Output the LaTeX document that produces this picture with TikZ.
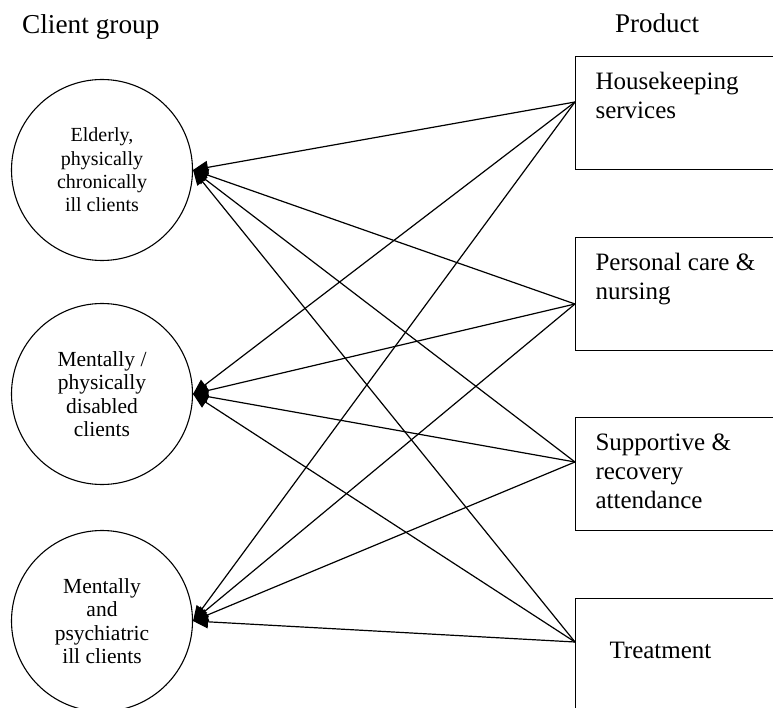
\documentclass[tikz,border=0pt]{standalone}
\usepackage{fontspec}
\setmainfont{Liberation Serif}
\usetikzlibrary{arrows.meta}

\newcommand{\prtext}[2][33pt]{\parbox[b][113pt][t]{175pt}{\rule{0pt}{#1}#2}}

\begin{document}
\begin{tikzpicture}[x=1pt, y=-1pt,
                    cg/.style={draw, circle, line width=1.1pt, minimum size=181pt,
                               inner sep=0pt, align=center},
                    pr/.style={draw, anchor=north west, line width=1.1pt, inner xsep=20pt,
                               inner ysep=0pt, minimum width=215pt,
                               font=\fontsize{25}{29}\selectfont},
                    link/.style={line width=1.2pt, -{Triangle[length=15pt,width=13pt]}}]
                    \useasboundingbox (0, 0) rectangle (773, 708);
                    \node[anchor=base west, inner sep=0pt, font=\fontsize{27.3}{31}\selectfont]
                        (hcg) at (22, 34) {Client group};
                    \node[anchor=base west, inner sep=0pt, font=\fontsize{27}{31}\selectfont]
                        (hpr) at (615, 33) {Product};
                    \node[cg, font=\fontsize{20}{23.3}\selectfont] (cg0) at (102, 170)
                        {Elderly,\\physically\\chronically\\ill clients};
                    \node[cg, font=\fontsize{21.5}{23.3}\selectfont] (cg1) at (102, 394)
                        {Mentally /\\physically\\disabled\\clients};
                    \node[cg, font=\fontsize{21.5}{23.3}\selectfont] (cg2) at (102, 621)
                        {Mentally\\and\\psychiatric\\ill clients};
                    \node[pr] (pr0) at (575, 56) {\prtext{Housekeeping\\services}};
                    \node[pr] (pr1) at (575, 237) {\prtext{Personal care \&\\nursing}};
                    \node[pr] (pr2) at (575, 417) {\prtext{Supportive \&\\recovery\\attendance}};
                    \node[pr] (pr3) at (575, 598) {\prtext[60pt]{\hspace*{14pt}Treatment}};
                    \coordinate (e0) at ([yshift=-46pt]pr0.north west);
                    \coordinate (e1) at ([yshift=-67pt]pr1.north west);
                    \coordinate (e2) at ([yshift=-45pt]pr2.north west);
                    \coordinate (e3) at ([yshift=-44pt]pr3.north west);
                    \draw[link] (e0) -- (cg0.east);
                    \draw[link] (e0) -- (cg1.east);
                    \draw[link] (e0) -- (cg2.east);
                    \draw[link] (e1) -- (cg0.east);
                    \draw[link] (e1) -- (cg1.east);
                    \draw[link] (e1) -- (cg2.east);
                    \draw[link] (e2) -- (cg0.east);
                    \draw[link] (e2) -- (cg1.east);
                    \draw[link] (e2) -- (cg2.east);
                    \draw[link] (e3) -- (cg0.east);
                    \draw[link] (e3) -- (cg1.east);
                    \draw[link] (e3) -- (cg2.east);
                \end{tikzpicture}
\end{document}
